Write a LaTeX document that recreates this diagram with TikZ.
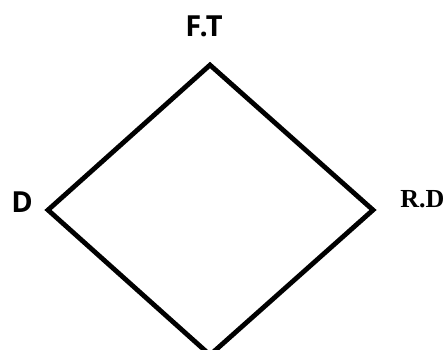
\documentclass[tikz,border=0pt]{standalone}
\usepackage{fontspec}
\setmainfont{Liberation Serif}
\newfontfamily\opensans{Open Sans}
\begin{document}
\begin{tikzpicture}[x=1pt,y=-1pt,
  edgeline/.style={draw=black,line width=4.8pt,line join=miter},
  sanslabel/.style={inner sep=0pt,anchor=base,font=\opensans\bfseries\fontsize{29}{32}\selectfont},
  seriflabel/.style={inner sep=0pt,anchor=base,font=\bfseries\fontsize{26}{30}\selectfont}]
\useasboundingbox (0,0) rectangle (448,350);
\coordinate (top) at (210,65);
\coordinate (left) at (48,210);
\coordinate (right) at (373,210);
\coordinate (bottom) at (210,355);
\begin{scope}
\clip (0,0) rectangle (448,350);
\draw[edgeline] (top) -- (right) -- (bottom) -- (left) -- cycle;
\end{scope}
\node[sanslabel] (ft) at (204,37) {F.T};
\node[sanslabel] (d) at (22,213) {D};
\node[seriflabel] (rd) at (422.5,208) {R.D};
\end{tikzpicture}
\end{document}
